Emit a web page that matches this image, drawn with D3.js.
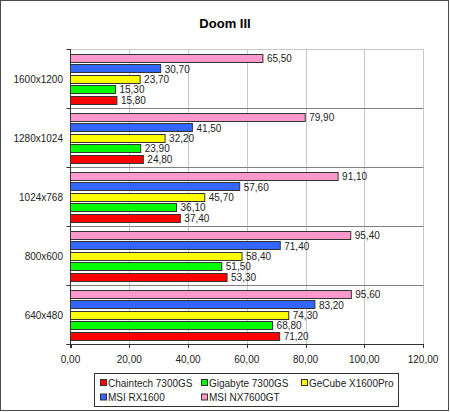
<!DOCTYPE html>
<html>
<head>
<meta charset="utf-8">
<script src="https://cdn.jsdelivr.net/npm/d3@7"></script>
<style>
  body { margin: 0; background: #fff; }
  text { font-family: "Liberation Sans", Arial, sans-serif; }
</style>
</head>
<body>
<div id="chart"></div>
<script>
(function() {
  var categories = ["1600x1200", "1280x1024", "1024x768", "800x600", "640x480"];
  var series = ["Chaintech 7300GS", "Gigabyte 7300GS", "GeCube X1600Pro", "MSI RX1600", "MSI NX7600GT"];
  var chaintech = [15.80, 24.80, 37.40, 53.30, 71.20];
  var gigabyte = [15.30, 23.90, 36.10, 51.50, 68.80];
  var gecube = [23.70, 32.20, 45.70, 58.40, 74.30];
  var rx1600 = [30.70, 41.50, 57.60, 71.40, 83.20];
  var nx7600 = [65.50, 79.90, 91.10, 95.40, 95.60];
  var xTicks = [0, 20, 40, 60, 80, 100, 120];
  var colors = ["#ff0000", "#00ff00", "#ffff00", "#3366ff", "#ff99cc"];

  var values = [chaintech, gigabyte, gecube, rx1600, nx7600];

  var width = 450, height = 412;
  var left = 70.5, right = 423, top = 49, bottom = 344;
  var fs = 10;

  var svg = d3.select("#chart")
    .append("svg")
    .attr("width", width)
    .attr("height", height);

  svg.append("rect")
    .attr("x", 0.5).attr("y", 0.5)
    .attr("width", width - 2).attr("height", height - 2)
    .attr("fill", "#fff")
    .attr("stroke", "#4a4a4a");

  svg.append("text")
    .attr("x", 225).attr("y", 28)
    .attr("text-anchor", "middle")
    .attr("font-size", 13)
    .attr("font-weight", "bold")
    .text("Doom III");

  var xScale = d3.scaleLinear().domain([0, 120]).range([left, right]);
  var yScale = d3.scaleBand().domain(categories).range([top, bottom]);
  var innerScale = d3.scaleBand()
    .domain(series.slice().reverse())
    .range([4, yScale.bandwidth() - 3])
    .paddingInner(0.2)
    .paddingOuter(0.1);

  // vertical grid
  svg.selectAll(".grid")
    .data(xTicks.slice(1))
    .enter().append("line")
    .attr("x1", function(d) { return Math.round(xScale(d)) + 0.5; })
    .attr("x2", function(d) { return Math.round(xScale(d)) + 0.5; })
    .attr("y1", top)
    .attr("y2", bottom)
    .attr("stroke", "#c8c8c8");

  svg.append("line")
    .attr("x1", left).attr("x2", Math.round(right) + 0.5)
    .attr("y1", top + 0.5).attr("y2", top + 0.5)
    .attr("stroke", "#c8c8c8");

  // category separators
  svg.selectAll(".sep")
    .data(categories.slice(1))
    .enter().append("line")
    .attr("x1", left)
    .attr("x2", Math.round(right) + 0.5)
    .attr("y1", function(d) { return Math.round(yScale(d)) + 0.5; })
    .attr("y2", function(d) { return Math.round(yScale(d)) + 0.5; })
    .attr("stroke", "#808080");

  // bars
  series.forEach(function(s, i) {
    var g = svg.append("g");
    g.selectAll("rect")
      .data(values[i])
      .enter().append("rect")
      .attr("x", xScale(0))
      .attr("y", function(d, j) { return Math.round(yScale(categories[j]) + innerScale(s)) + 0.5; })
      .attr("width", function(d) { return xScale(d) - xScale(0); })
      .attr("height", Math.round(innerScale.bandwidth()))
      .attr("fill", colors[i])
      .attr("stroke", "#333")
      .attr("stroke-width", 1);

    g.selectAll("text")
      .data(values[i])
      .enter().append("text")
      .attr("x", function(d) { return xScale(d) + 4; })
      .attr("y", function(d, j) { return yScale(categories[j]) + innerScale(s) + innerScale.bandwidth() / 2 + 4; })
      .attr("font-size", fs)
      .attr("fill", "#222")
      .text(function(d) { return d.toFixed(2).replace(".", ","); });
  });

  // y axis
  svg.append("line")
    .attr("x1", left).attr("x2", left)
    .attr("y1", top).attr("y2", bottom + 4)
    .attr("stroke", "#333");

  svg.selectAll(".ytick")
    .data(categories.concat(["end"]))
    .enter().append("line")
    .attr("x1", left - 4).attr("x2", left)
    .attr("y1", function(d, i) { return Math.round(top + i * yScale.step()) + 0.5; })
    .attr("y2", function(d, i) { return Math.round(top + i * yScale.step()) + 0.5; })
    .attr("stroke", "#333");

  svg.selectAll(".ylabel")
    .data(categories)
    .enter().append("text")
    .attr("x", 63)
    .attr("y", function(d) { return yScale(d) + yScale.bandwidth() / 2 + 4.5; })
    .attr("text-anchor", "end")
    .attr("font-size", fs)
    .attr("fill", "#222")
    .text(function(d) { return d; });

  // x axis
  svg.append("line")
    .attr("x1", left - 4).attr("x2", Math.round(right) + 0.5)
    .attr("y1", bottom + 0.5).attr("y2", bottom + 0.5)
    .attr("stroke", "#333");

  svg.selectAll(".xtick")
    .data(xTicks)
    .enter().append("line")
    .attr("x1", function(d) { return Math.round(xScale(d)) + 0.5; })
    .attr("x2", function(d) { return Math.round(xScale(d)) + 0.5; })
    .attr("y1", bottom).attr("y2", bottom + 4)
    .attr("stroke", "#333");

  svg.selectAll(".xlabel")
    .data(xTicks)
    .enter().append("text")
    .attr("x", function(d) { return xScale(d); })
    .attr("y", 362.5)
    .attr("text-anchor", "middle")
    .attr("font-size", fs)
    .attr("fill", "#222")
    .text(function(d) { return d.toFixed(2).replace(".", ","); });

  // legend
  var legend = svg.append("g");
  legend.append("rect")
    .attr("x", 94.5).attr("y", 373.5)
    .attr("width", 304).attr("height", 33)
    .attr("fill", "#fff")
    .attr("stroke", "#333");

  var legendX = [100, 201, 301];
  var items = legend.selectAll(".item")
    .data(series)
    .enter().append("g")
    .attr("transform", function(d, i) {
      return "translate(" + legendX[i % 3] + "," + (383 + Math.floor(i / 3) * 14.5) + ")";
    });

  items.append("rect")
    .attr("x", 0.5).attr("y", -3.5)
    .attr("width", 6).attr("height", 6)
    .attr("fill", function(d, i) { return colors[i]; })
    .attr("stroke", "#333");

  items.append("text")
    .attr("x", 8)
    .attr("y", 3.5)
    .attr("font-size", fs)
    .attr("fill", "#222")
    .text(function(d) { return d; });
})();
</script>
</body>
</html>
